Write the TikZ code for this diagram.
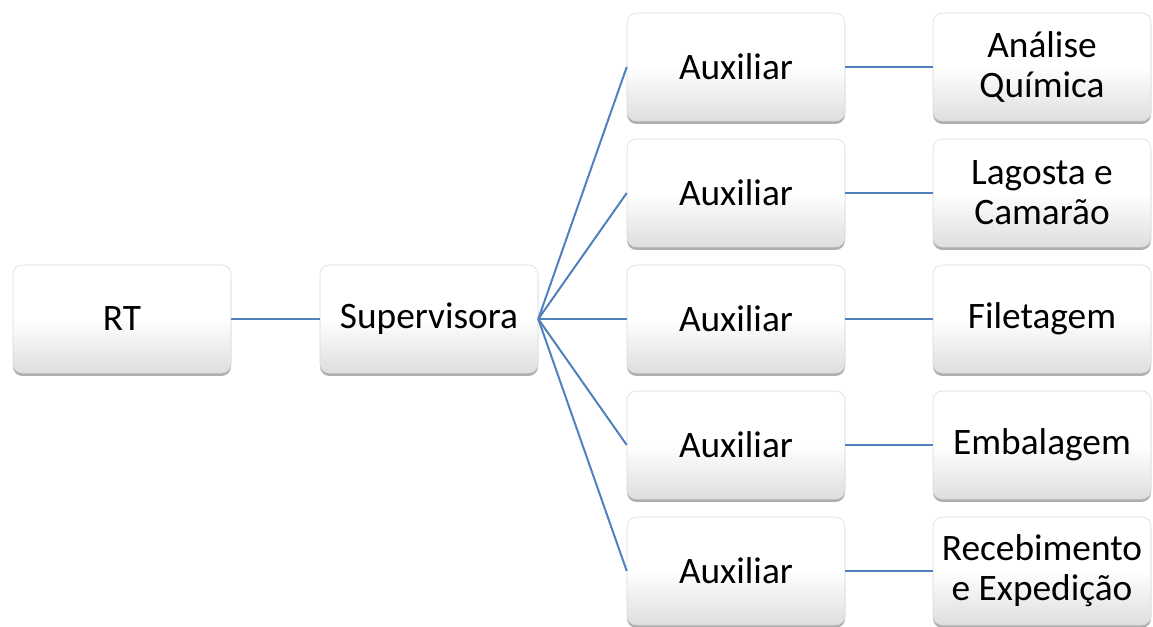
\documentclass[tikz,border=0pt]{standalone}
\usepackage{fontspec}
\setmainfont{Carlito}
\usetikzlibrary{shadows}

\tikzset{
  orgbox/.style={rectangle, rounded corners=7pt, draw=black!15, line width=0.4pt,
    top color=white, bottom color=black!13, middle color=white,
    drop shadow={shadow xshift=0pt, shadow yshift=-2.2pt, opacity=0.45, fill=black!70},
    minimum width=163.5pt, minimum height=81pt, inner sep=2pt, align=center,
    font=\fontsize{28}{30}\selectfont},
  link/.style={draw={rgb,255:red,79;green,129;blue,189}, line width=1.5pt}
}

\begin{document}
\begin{tikzpicture}[x=0.75pt,y=-0.75pt]
\useasboundingbox (0,0) rectangle (1153,627);
\node[orgbox] (rt) at (122,319) {RT};
\node[orgbox] (sup) at (429,319) {Supervisora};
\node[orgbox] (auxA) at (736,67) {Auxiliar};
\node[orgbox] (auxB) at (736,193) {Auxiliar};
\node[orgbox] (auxC) at (736,319) {Auxiliar};
\node[orgbox] (auxD) at (736,445) {Auxiliar};
\node[orgbox] (auxE) at (736,571) {Auxiliar};
\node[orgbox] (quim) at (1042,67) {Análise\\Química};
\node[orgbox] (lag) at (1042,193) {Lagosta e\\Camarão};
\node[orgbox] (file) at (1042,319) {Filetagem};
\node[orgbox] (emb) at (1042,445) {Embalagem};
\node[orgbox] (rec) at (1042,571) {Recebimento\\e Expedição};
\draw[link] (rt.east) -- (sup.west);
\draw[link] (sup.east) -- (auxA.west);
\draw[link] (sup.east) -- (auxB.west);
\draw[link] (sup.east) -- (auxC.west);
\draw[link] (sup.east) -- (auxD.west);
\draw[link] (sup.east) -- (auxE.west);
\draw[link] (auxA.east) -- (quim.west);
\draw[link] (auxB.east) -- (lag.west);
\draw[link] (auxC.east) -- (file.west);
\draw[link] (auxD.east) -- (emb.west);
\draw[link] (auxE.east) -- (rec.west);
\end{tikzpicture}
\end{document}
